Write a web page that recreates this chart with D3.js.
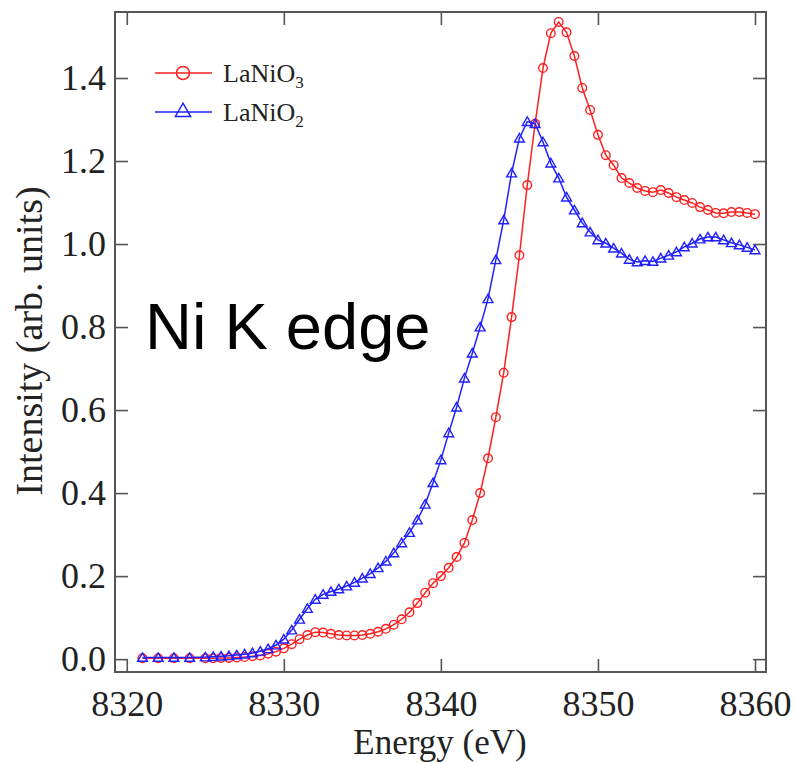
<!DOCTYPE html>
<html>
<head>
<meta charset="utf-8">
<script src="https://cdn.jsdelivr.net/npm/d3@7"></script>
<style>
    body { margin: 0; background: #fff; }
    svg { display: block; }
</style>
</head>
<body>
<svg id="chart"></svg>
<script>
// Photon energy grid (eV)
let energy = [8321, 8322, 8323, 8324,
    8325, 8325.5, 8326, 8326.5, 8327, 8327.5, 8328, 8328.5, 8329, 8329.5,
    8330, 8330.5, 8331, 8331.5, 8332, 8332.5, 8333, 8333.5, 8334, 8334.5,
    8335, 8335.5, 8336, 8336.5, 8337, 8337.5, 8338, 8338.5, 8339, 8339.5,
    8340, 8340.5, 8341, 8341.5, 8342, 8342.5, 8343, 8343.5, 8344, 8344.5,
    8345, 8345.5, 8346, 8346.5, 8347, 8347.5, 8348, 8348.5, 8349, 8349.5,
    8350, 8350.5, 8351, 8351.5, 8352, 8352.5, 8353, 8353.5, 8354, 8354.5,
    8355, 8355.5, 8356, 8356.5, 8357, 8357.5, 8358, 8358.5, 8359, 8359.5,
    8360];

// LaNiO3 intensity
let laNiO3 = [0.002, 0.002, 0.002, 0.002,
    0.002, 0.002, 0.003, 0.003, 0.004, 0.005, 0.007, 0.009, 0.013, 0.018,
    0.026, 0.036, 0.048, 0.058, 0.065, 0.064, 0.061, 0.058, 0.057, 0.057,
    0.058, 0.061, 0.066, 0.073, 0.083, 0.096, 0.113, 0.135, 0.160, 0.183,
    0.200, 0.220, 0.246, 0.280, 0.335, 0.400, 0.484, 0.583, 0.690, 0.824,
    0.973, 1.142, 1.290, 1.424, 1.508, 1.535, 1.510, 1.453, 1.376, 1.323,
    1.263, 1.214, 1.190, 1.159, 1.147, 1.135, 1.128, 1.125, 1.130, 1.123,
    1.113, 1.106, 1.099, 1.089, 1.082, 1.075, 1.074, 1.077, 1.077, 1.075,
    1.072];

// LaNiO2 intensity
let laNiO2 = [0.004, 0.004, 0.004, 0.004,
    0.005, 0.006, 0.007, 0.008, 0.010, 0.012, 0.015, 0.019, 0.025, 0.034,
    0.048, 0.070, 0.096, 0.122, 0.144, 0.156, 0.163, 0.169, 0.176, 0.185,
    0.195, 0.206, 0.220, 0.236, 0.256, 0.280, 0.305, 0.335, 0.373, 0.425,
    0.480, 0.545, 0.607, 0.677, 0.737, 0.800, 0.868, 0.962, 1.058, 1.171,
    1.255, 1.295, 1.290, 1.246, 1.195, 1.159, 1.113, 1.082, 1.051, 1.029,
    1.010, 1.002, 0.990, 0.978, 0.963, 0.957, 0.960, 0.958, 0.966, 0.973,
    0.981, 0.993, 1.002, 1.012, 1.017, 1.017, 1.010, 1.003, 0.998, 0.992,
    0.986];

let xTicks = [8320, 8330, 8340, 8350, 8360];
let yTicks = [0.0, 0.2, 0.4, 0.6, 0.8, 1.0, 1.2, 1.4];

let width = 796;
let height = 762;
let plotLeft = 115, plotRight = 766, plotTop = 12, plotBottom = 672;
let serif = "'Liberation Serif', 'Times New Roman', serif";
let axisColor = "#555";
let redColor = "#ff1f1f";
let blueColor = "#2020ff";

let svg = d3.select("#chart")
    .attr("width", width)
    .attr("height", height);

let x = d3.scaleLinear().domain([8319.25, 8360.7]).range([plotLeft, plotRight]);
let y = d3.scaleLinear().domain([-0.031, 1.559]).range([plotBottom, plotTop]);

// Ticks on all four sides, pointing inward
let tickLen = 13;
let bottomAxis = d3.axisBottom(x).tickValues(xTicks).tickSizeInner(-tickLen).tickSizeOuter(0).tickFormat(d3.format("d"));
let topAxis = d3.axisTop(x).tickValues(xTicks).tickSizeInner(-tickLen).tickSizeOuter(0).tickFormat("");
let leftAxis = d3.axisLeft(y).tickValues(yTicks).tickSizeInner(-tickLen).tickSizeOuter(0).tickFormat(d3.format(".1f"));
let rightAxis = d3.axisRight(y).tickValues(yTicks).tickSizeInner(-tickLen).tickSizeOuter(0).tickFormat("");

function styleAxis(g) {
    g.select(".domain").remove();
    g.selectAll(".tick line").attr("stroke", axisColor).attr("stroke-width", 1.6);
    g.selectAll(".tick text")
        .attr("fill", "#222")
        .style("font-family", serif)
        .style("font-size", "36px");
}

svg.append("g").attr("transform", `translate(0,${plotBottom})`).call(bottomAxis).call(styleAxis)
    .selectAll(".tick text").attr("y", 44).attr("dy", 0);
svg.append("g").attr("transform", `translate(0,${plotTop})`).call(topAxis).call(styleAxis);
svg.append("g").attr("transform", `translate(${plotLeft},0)`).call(leftAxis).call(styleAxis)
    .selectAll(".tick text").attr("x", -9);
svg.append("g").attr("transform", `translate(${plotRight},0)`).call(rightAxis).call(styleAxis);

// Plot frame
svg.append("rect")
    .attr("x", plotLeft).attr("y", plotTop)
    .attr("width", plotRight - plotLeft).attr("height", plotBottom - plotTop)
    .attr("fill", "none")
    .attr("stroke", axisColor)
    .attr("stroke-width", 2);

let line = d3.line()
    .x((d, i) => x(energy[i]))
    .y(d => y(d));

let triangle = d3.symbol().type(d3.symbolTriangle).size(42);

// LaNiO3 - red circles
svg.append("path")
    .datum(laNiO3)
    .attr("d", line)
    .attr("fill", "none")
    .attr("stroke", redColor)
    .attr("stroke-width", 1.5);
svg.append("g").selectAll("circle")
    .data(laNiO3)
    .enter().append("circle")
    .attr("cx", (d, i) => x(energy[i]))
    .attr("cy", d => y(d))
    .attr("r", 4.3)
    .attr("fill", "none")
    .attr("stroke", redColor)
    .attr("stroke-width", 1.4);

// LaNiO2 - blue triangles
svg.append("path")
    .datum(laNiO2)
    .attr("d", line)
    .attr("fill", "none")
    .attr("stroke", blueColor)
    .attr("stroke-width", 1.5);
svg.append("g").selectAll("path")
    .data(laNiO2)
    .enter().append("path")
    .attr("d", triangle)
    .attr("transform", (d, i) => `translate(${x(energy[i])},${y(d) + 1})`)
    .attr("fill", "none")
    .attr("stroke", blueColor)
    .attr("stroke-width", 1.4);

// Legend
let legend = svg.append("g").attr("transform", "translate(155,0)");
legend.append("line").attr("x1", 0).attr("x2", 57).attr("y1", 73).attr("y2", 73)
    .attr("stroke", redColor).attr("stroke-width", 1.5);
legend.append("circle").attr("cx", 28).attr("cy", 73).attr("r", 6.5)
    .attr("fill", "none").attr("stroke", redColor).attr("stroke-width", 1.5);
legend.append("line").attr("x1", 0).attr("x2", 57).attr("y1", 112).attr("y2", 112)
    .attr("stroke", blueColor).attr("stroke-width", 1.5);
legend.append("path")
    .attr("d", d3.symbol().type(d3.symbolTriangle).size(100))
    .attr("transform", "translate(28,112)")
    .attr("fill", "none").attr("stroke", blueColor).attr("stroke-width", 1.5);

let legendLabels = [["LaNiO", "3", 82], ["LaNiO", "2", 121]];
legendLabels.forEach(function (l) {
    let t = legend.append("text")
        .attr("x", 68).attr("y", l[2])
        .attr("fill", "#222")
        .style("font-family", serif)
        .style("font-size", "26px")
        .text(l[0]);
    t.append("tspan")
        .attr("dy", 6)
        .style("font-size", "17px")
        .text(l[1]);
});

// Axis titles
svg.append("text")
    .attr("x", 440).attr("y", 754)
    .attr("text-anchor", "middle")
    .attr("fill", "#222")
    .style("font-family", serif)
    .style("font-size", "35px")
    .text("Energy (eV)");

svg.append("text")
    .attr("transform", "translate(42,341) rotate(-90)")
    .attr("text-anchor", "middle")
    .attr("fill", "#222")
    .style("font-family", serif)
    .style("font-size", "38px")
    .text("Intensity (arb. units)");

// Annotation
svg.append("text")
    .attr("x", 145).attr("y", 349)
    .attr("fill", "#000")
    .style("font-family", "'Liberation Sans', Arial, sans-serif")
    .style("font-size", "65px")
    .text("Ni K edge");
</script>
</body>
</html>
